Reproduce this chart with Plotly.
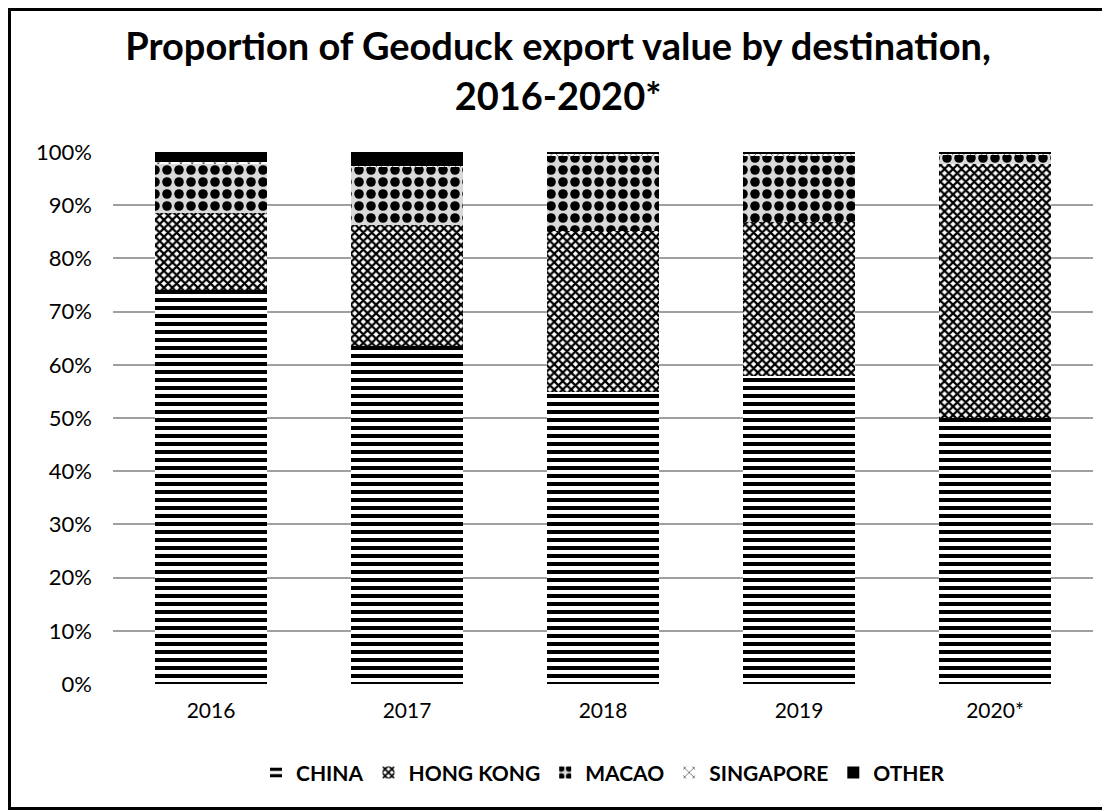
import plotly.graph_objects as go

years = ["2016", "2017", "2018", "2019", "2020*"]

china = [74.1, 63.5, 54.9, 57.9, 50.0]
hong_kong = [14.4, 22.8, 30.3, 29.0, 47.7]
macao = [9.4, 10.9, 14.2, 12.5, 1.9]
singapore = [0.2, 0.2, 0.2, 0.2, 0.2]
other = [1.9, 2.6, 0.4, 0.4, 0.2]

FONT = "Lato"

fig = go.Figure()

series = [
    ("CHINA", china, dict(shape="-", size=8, solidity=0.5, bgcolor="white")),
    ("HONG KONG", hong_kong, dict(shape="x", size=6, solidity=0.6, bgcolor="white")),
    ("MACAO", macao, dict(shape=".", size=12, solidity=0.5, bgcolor="#d9d9d9")),
    ("SINGAPORE", singapore, dict(shape="x", size=8, solidity=0.15, bgcolor="white")),
    ("OTHER", other, None),
]

for name, vals, pat in series:
    marker = dict(color="black", line=dict(width=0))
    if pat:
        pat.update(fgcolor="black", fgopacity=1, fillmode="replace")
        marker["pattern"] = pat
        marker["color"] = pat["bgcolor"]
    fig.add_trace(go.Bar(
        x=years,
        y=[v / 100 for v in vals],
        name="<b>" + name + "</b>",
        marker=marker,
    ))

W, H = 1100, 802
L, R, T, B = 105, 15, 144, 126
pw, ph = W - L - R, H - T - B

fig.update_layout(
    width=W,
    height=H,
    barmode="stack",
    bargap=0.43,
    plot_bgcolor="white",
    paper_bgcolor="white",
    margin=dict(l=L, r=R, t=T, b=B),
    font=dict(family=FONT, color="black", size=21),
    title=dict(
        text="<b>Proportion of Geoduck export value by destination,<br>2016-2020*</b>",
        x=0.5,
        xanchor="center",
        y=0.935,
        yanchor="middle",
        font=dict(family=FONT, size=38, color="black"),
    ),
    xaxis=dict(showgrid=False, showline=False, ticks="",
               tickfont=dict(size=21), ticklabelstandoff=12),
    yaxis=dict(
        range=[0, 1],
        tickformat=".0%",
        dtick=0.1,
        showgrid=True,
        gridcolor="#a0a0a0",
        gridwidth=2,
        zeroline=False,
        showline=False,
        ticks="",
        tickfont=dict(size=22),
        ticklabelstandoff=20,
    ),
    legend=dict(
        orientation="h",
        x=0.5,
        xanchor="center",
        y=-0.167,
        yanchor="middle",
        font=dict(family=FONT, size=21),
        traceorder="normal",
    ),
    showlegend=True,
)

# outer frame around the chart
fig.add_shape(
    type="rect",
    xref="paper", yref="paper",
    x0=-(L - 1.5) / pw, x1=1 + (R - 1.5) / pw,
    y0=-(B - 1.5) / ph, y1=1 + (T - 1.5) / ph,
    line=dict(color="black", width=3),
    fillcolor="rgba(0,0,0,0)",
    layer="above",
)

fig.write_html("out.html")
